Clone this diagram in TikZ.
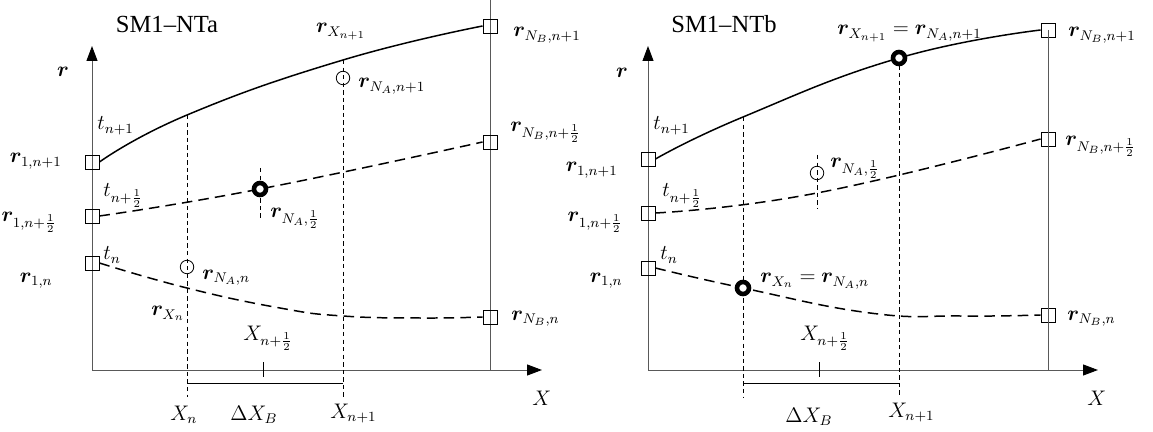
\documentclass[tikz,border=0pt]{standalone}
\usepackage{amsmath,bm}
\usepackage{fontspec}
\setmainfont{Liberation Serif}
\usetikzlibrary{arrows.meta}

\begin{document}
\begin{tikzpicture}[x=0.02cm, y=-0.02cm,
  every node/.style={font=\fontsize{11.5}{13}\selectfont, inner sep=0pt},
  title/.style={font=\fontsize{14}{16}\selectfont, anchor=base},
  axis/.style={draw=black!65, line width=0.55pt},
  axarrow/.style={-{Triangle[length=0.3cm, width=0.22cm, color=black]}},
  guide/.style={line width=0.45pt, dash pattern=on 2.5pt off 1.8pt},
  curve/.style={line width=0.85pt},
  dcurve/.style={line width=0.85pt, dash pattern=on 6pt off 3.5pt},
  sq/.style={draw, rectangle, minimum size=0.28cm, line width=0.5pt},
  pt/.style={draw, circle, minimum size=0.27cm, line width=0.45pt},
  bigpt/.style={draw, circle, fill=white, minimum size=0.24cm, line width=2.6pt}]
\useasboundingbox (0,0) rectangle (1153,432);

\node[title] (titlea) at (167,33) {SM1–NTa};
\coordinate (oa) at (92,370);
\coordinate (ya) at (92,46);
\coordinate (xa) at (542,370);
\coordinate (topa) at (490,0);
\coordinate (bota) at (490,370);
\draw[axis, axarrow] (oa) -- (ya);
\draw[axis, axarrow] (oa) -- (xa);
\draw[axis] (topa) -- (bota);

\node[sq] (sq1a) at (92,162) {};
\node[sq] (sqha) at (92,216) {};
\node[sq] (sq0a) at (92,263) {};
\node[sq] (sqB1a) at (490,26) {};
\node[sq] (sqBha) at (490,142) {};
\node[sq] (sqB0a) at (490,317) {};

\coordinate (ca1) at (187,115);
\coordinate (ca2) at (343,60);
\coordinate (ga1) at (187,397);
\coordinate (ga2) at (343,397);
\coordinate (ha1) at (260,168);
\coordinate (ha2) at (260,220);
\draw[guide] (ca1) -- (ga1);
\draw[guide] (ca2) -- (ga2);
\draw[guide] (ha1) -- (ha2);

\draw[curve] plot[smooth, tension=0.8] coordinates {(sq1a.east) (ca1) (ca2) (sqB1a.west)};
\draw[dcurve] plot[smooth, tension=0.8] coordinates {(sqha.east) (260,189) (sqBha.west)};
\draw[dcurve] plot[smooth, tension=0.8] coordinates {(sq0a.east) (187,288) (280,308) (343,316) (420,318) (sqB0a.west)};

\node[pt] (na1a) at (343,78) {};
\node[pt] (na0a) at (187,267) {};
\node[bigpt] (naha) at (260,189) {};

\coordinate (bla) at (187,383);
\coordinate (bra) at (343,383);
\coordinate (tk1a) at (263,362);
\coordinate (tk2a) at (263,377);
\draw[line width=0.5pt] (bla) -- (bra);
\draw[line width=0.5pt] (tk1a) -- (tk2a);

\node[anchor=base] (ra) at (63,77) {$\bm{r}$};
\node[anchor=base east] (r1a) at (62,163) {$\bm{r}_{1,n+1}$};
\node[anchor=base east] (rha) at (57,222) {$\bm{r}_{1,n+\frac{1}{2}}$};
\node[anchor=base east] (r0a) at (53,282) {$\bm{r}_{1,n}$};
\node[anchor=base west] (t1a) at (97,130) {$t_{n+1}$};
\node[anchor=base west] (tha) at (103,197) {$t_{n+\frac{1}{2}}$};
\node[anchor=base west] (t0a) at (103,260) {$t_n$};
\node[anchor=base] (rx1a) at (341,33) {$\bm{r}_{X_{n+1}}$};
\node[anchor=base west] (rna1a) at (358,88) {$\bm{r}_{N_A,n+1}$};
\node[anchor=base west] (rnb1a) at (513,37) {$\bm{r}_{N_B,n+1}$};
\node[anchor=base west] (rnbha) at (510,132) {$\bm{r}_{N_B,n+\frac{1}{2}}$};
\node[anchor=base west] (rnb0a) at (511,320) {$\bm{r}_{N_B,n}$};
\node[anchor=base west] (rnaha) at (270,218) {$\bm{r}_{N_A,\frac{1}{2}}$};
\node[anchor=base west] (rna0a) at (202,279) {$\bm{r}_{N_A,n}$};
\node[anchor=base east] (rx0a) at (185,316) {$\bm{r}_{X_n}$};
\node[anchor=base west] (xha) at (243,340) {$X_{n+\frac{1}{2}}$};
\node[anchor=base west] (x0a) at (170,420) {$X_n$};
\node[anchor=base west] (dxa) at (230,420) {$\Delta X_B$};
\node[anchor=base west] (x1a) at (330,418) {$X_{n+1}$};
\node[anchor=base west] (xla) at (532,405) {$X$};

\node[title] (titleb) at (724,33) {SM1–NTb};
\coordinate (ob) at (648,370);
\coordinate (yb) at (648,46);
\coordinate (xb) at (1098,370);
\coordinate (botb) at (1048,370);
\draw[axis, axarrow] (ob) -- (yb);
\draw[axis, axarrow] (ob) -- (xb);

\node[sq] (sq1b) at (648,159) {};
\node[sq] (sqhb) at (648,213) {};
\node[sq] (sq0b) at (648,268) {};
\node[sq] (sqB1b) at (1048,30) {};
\node[sq] (sqBhb) at (1048,139) {};
\node[sq] (sqB0b) at (1048,315) {};
\draw[axis] (sqB1b.center) -- (botb);

\coordinate (cb1) at (743,117);
\coordinate (cb2) at (899,58);
\coordinate (cb0) at (743,288);
\coordinate (gb1) at (743,397);
\coordinate (gb2) at (899,397);
\coordinate (hb1) at (817,155);
\coordinate (hb2) at (817,208);
\draw[guide] (cb1) -- (gb1);
\draw[guide] (cb2) -- (gb2);
\draw[guide] (hb1) -- (hb2);

\draw[curve] plot[smooth, tension=0.8] coordinates {(sq1b.east) (cb1) (cb2) (sqB1b.west)};
\draw[dcurve] plot[smooth, tension=0.8] coordinates {(sqhb.east) (817,193) (sqBhb.west)};
\draw[dcurve] plot[smooth, tension=0.8] coordinates {(sq0b.east) (cb0) (870,313) (960,316) (sqB0b.west)};

\node[pt] (nahb) at (817,173) {};
\node[bigpt] (na1b) at (cb2) {};
\node[bigpt] (na0b) at (cb0) {};

\coordinate (blb) at (743,383);
\coordinate (brb) at (899,383);
\coordinate (tk1b) at (819,362);
\coordinate (tk2b) at (819,377);
\draw[line width=0.5pt] (blb) -- (brb);
\draw[line width=0.5pt] (tk1b) -- (tk2b);

\node[anchor=base] (rb) at (622,78) {$\bm{r}$};
\node[anchor=base east] (r1b) at (618,172) {$\bm{r}_{1,n+1}$};
\node[anchor=base east] (rhb) at (623,222) {$\bm{r}_{1,n+\frac{1}{2}}$};
\node[anchor=base east] (r0b) at (623,282) {$\bm{r}_{1,n}$};
\node[anchor=base west] (t1b) at (653,130) {$t_{n+1}$};
\node[anchor=base west] (thb) at (662,197) {$t_{n+\frac{1}{2}}$};
\node[anchor=base west] (t0b) at (660,260) {$t_n$};
\node[anchor=base east] (rx1b) at (982,35) {$\bm{r}_{X_{n+1}}=\bm{r}_{N_A,n+1}$};
\node[anchor=base west] (rnb1b) at (1068,37) {$\bm{r}_{N_B,n+1}$};
\node[anchor=base west] (rnbhb) at (1065,146) {$\bm{r}_{N_B,n+\frac{1}{2}}$};
\node[anchor=base west] (rnb0b) at (1067,320) {$\bm{r}_{N_B,n}$};
\node[anchor=base west] (rnahb) at (830,168) {$\bm{r}_{N_A,\frac{1}{2}}$};
\node[anchor=base west] (rx0b) at (760,283) {$\bm{r}_{X_n}=\bm{r}_{N_A,n}$};
\node[anchor=base west] (xhb) at (800,340) {$X_{n+\frac{1}{2}}$};
\node[anchor=base west] (dxb) at (785,422) {$\Delta X_B$};
\node[anchor=base west] (x1b) at (888,417) {$X_{n+1}$};
\node[anchor=base west] (xlb) at (1087,405) {$X$};
\end{tikzpicture}
\end{document}
